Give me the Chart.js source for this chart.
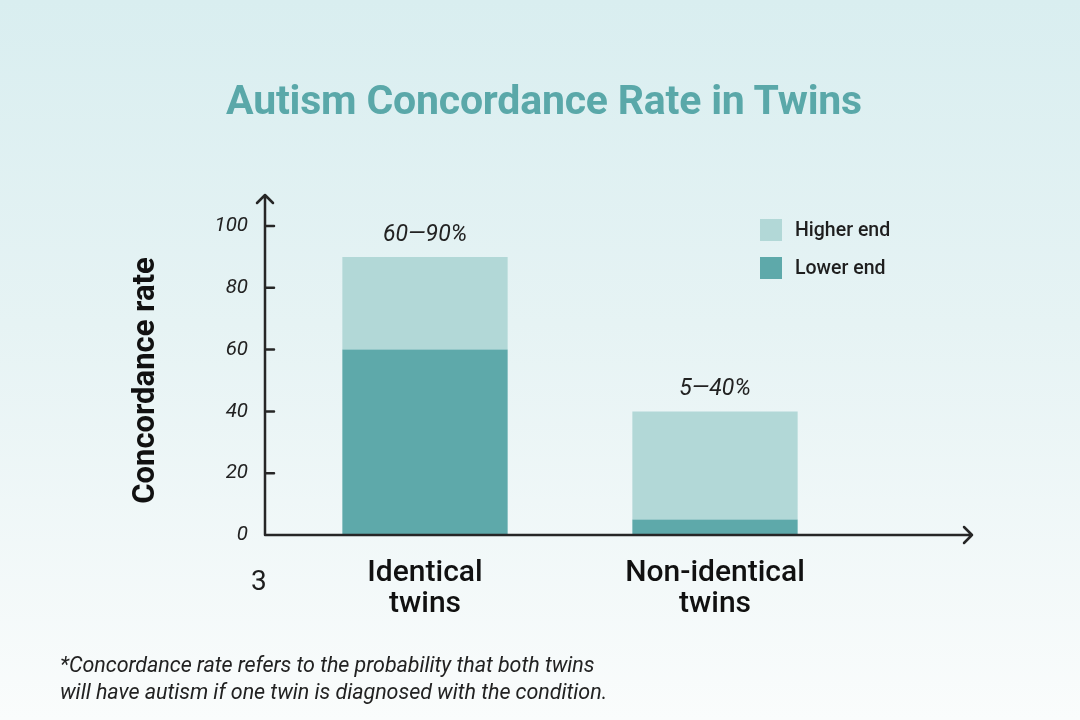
<!DOCTYPE html>
<html>
<head>
<meta charset="utf-8">
<script src="https://cdn.jsdelivr.net/npm/chart.js@4.4.1/dist/chart.umd.min.js"></script>
<style>
  html,body{margin:0;padding:0;}
  body{width:1080px;height:720px;overflow:hidden;position:relative;
    background:linear-gradient(to bottom,#d9eef0 0%,#e6f3f4 45%,#fafcfc 100%);
    font-family:Roboto,"Liberation Sans",sans-serif;color:#1e1e1e;}
  #chart-wrap{position:absolute;left:0;top:0;width:1080px;height:720px;}
  #title{position:absolute;left:4px;top:76px;width:1080px;text-align:center;
    font-size:41px;font-weight:700;color:#5aa8a9;letter-spacing:-0.2px;}
  #stray{position:absolute;left:251px;top:564px;font-size:28px;color:#1e1e1e;}
  #note{position:absolute;left:60px;top:651px;font-size:21.5px;font-style:italic;line-height:27px;color:#222;letter-spacing:-0.05px;}
</style>
</head>
<body>
<div id="chart-wrap"><canvas id="twinsChart" width="1080" height="720"></canvas></div>
<div id="title">Autism Concordance Rate in Twins</div>
<div id="stray">3</div>
<div id="note">*Concordance rate refers to the probability that both twins<br>will have autism if one twin is diagnosed with the condition.</div>
<script>
const categories=[["Identical","twins"],["Non-identical","twins"]];
const lowerEnd=[60,5];
const higherEnd=[90,40];
const yTicks=[0,20,40,60,80,100];

const lowerColor="#5ea9aa";
const higherColor="#b2d8d7";
const axisColor="#262626";

// axes with arrows, inward tick marks, range labels and legend
const decorations={
    id:"decorations",
    afterDatasetsDraw(chart){
        const ctx=chart.ctx;
        const area=chart.chartArea;
        const y=chart.scales.y;
        const ax=area.left-15;
        const ay=y.getPixelForValue(0);
        ctx.save();
        ctx.strokeStyle=axisColor;
        ctx.lineWidth=2.5;
        ctx.lineCap="round";
        ctx.lineJoin="round";
        ctx.beginPath();
        ctx.moveTo(ax,ay);
        ctx.lineTo(ax,195);
        ctx.moveTo(ax-8,203);ctx.lineTo(ax,195);ctx.lineTo(ax+8,203);
        ctx.moveTo(ax,ay);
        ctx.lineTo(972,ay);
        ctx.moveTo(964,ay-8);ctx.lineTo(972,ay);ctx.lineTo(964,ay+8);
        yTicks.forEach(v=>{
            if(v===0)return;
            const py=y.getPixelForValue(v);
            ctx.moveTo(ax,py);ctx.lineTo(ax+9,py);
        });
        ctx.stroke();

        // range labels over bars
        const meta=chart.getDatasetMeta(1);
        ctx.fillStyle="#222";
        ctx.font="italic 23px Roboto";
        ctx.textAlign="center";
        ctx.textBaseline="alphabetic";
        meta.data.forEach((bar,i)=>{
            ctx.fillText(lowerEnd[i]+"\u2014"+higherEnd[i]+"%",bar.x,bar.y-16);
        });

        // legend
        const items=[chart.data.datasets[1],chart.data.datasets[0]];
        ctx.font="500 19.5px Roboto";
        ctx.textAlign="left";
        ctx.textBaseline="middle";
        items.forEach((ds,i)=>{
            const ly=230+i*38;
            ctx.fillStyle=ds.backgroundColor;
            ctx.fillRect(760,ly-11,22,22);
            ctx.fillStyle="#1e1e1e";
            ctx.fillText(ds.label,795,ly+1);
        });
        ctx.restore();
    }
};

new Chart(document.getElementById("twinsChart"),{
    type:"bar",
    data:{
        labels:categories,
        datasets:[
            {
                label:"Lower end",
                data:lowerEnd,
                backgroundColor:lowerColor,
                categoryPercentage:1,
                barPercentage:0.57
            },
            {
                label:"Higher end",
                data:lowerEnd.map((v,i)=>[v,higherEnd[i]]),
                backgroundColor:higherColor,
                categoryPercentage:1,
                barPercentage:0.57
            }
        ]
    },
    options:{
        responsive:false,
        animation:false,
        layout:{padding:{left:110,right:220,top:226,bottom:100}},
        plugins:{legend:{display:false},tooltip:{enabled:false}},
        scales:{
            x:{
                stacked:true,
                grid:{display:false,drawTicks:false},
                border:{display:false},
                ticks:{color:"#111",font:{family:"Roboto",size:30,weight:"500",lineHeight:1.03},padding:23},
                afterFit(scale){scale.height=85;}
            },
            y:{
                min:0,max:100,
                afterBuildTicks(scale){scale.ticks=yTicks.map(v=>({value:v}));},
                grid:{display:false,drawTicks:false},
                border:{display:false},
                ticks:{color:"#222",font:{family:"Roboto",size:20.5,style:"italic"},padding:32},
                title:{display:true,text:"Concordance rate",color:"#111",
                    font:{family:"Roboto",size:31,weight:"700"},padding:{top:18,bottom:0}},
                afterFit(scale){scale.width=170;}
            }
        }
    },
    plugins:[decorations]
});
</script>
</body>
</html>
